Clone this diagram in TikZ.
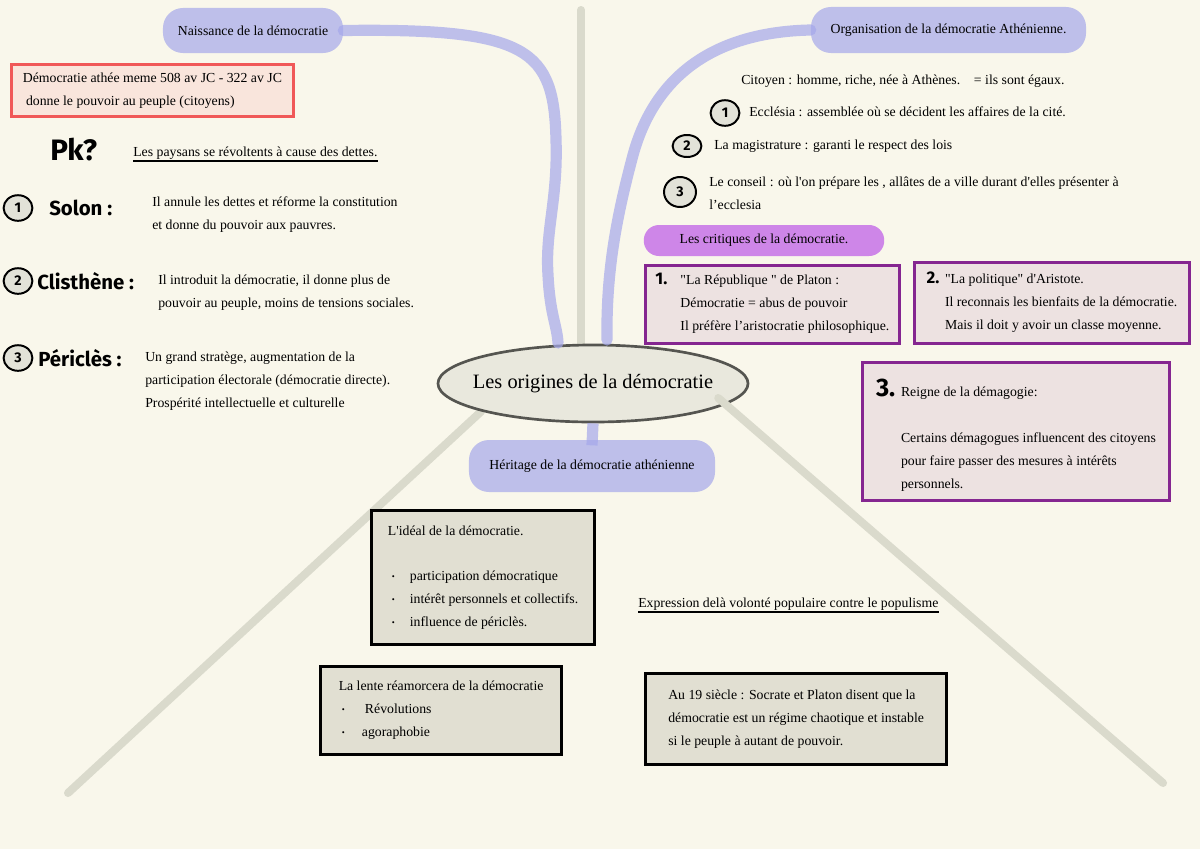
\documentclass[tikz,border=0pt]{standalone}
\usepackage{fontspec}
\setmainfont{Liberation Serif}[Ligatures=TeXOff]
\newfontfamily\handfont{Fira Sans}
\usetikzlibrary{shapes.geometric,backgrounds}

\definecolor{paper}{RGB}{249,247,235}
\definecolor{trunkgrey}{RGB}{218,218,204}
\definecolor{lavender}{RGB}{165,168,234}
\definecolor{critpurple}{RGB}{206,134,232}
\definecolor{boxpurple}{RGB}{133,38,144}
\definecolor{boxpink}{RGB}{237,226,225}
\definecolor{boxred}{RGB}{240,88,88}
\definecolor{redfill}{RGB}{249,229,220}
\definecolor{boxgrey}{RGB}{225,223,210}
\definecolor{ellfill}{RGB}{233,232,221}
\definecolor{ellline}{RGB}{85,85,80}
\definecolor{numfill}{RGB}{226,226,216}

\newcommand{\txtsize}{\fontsize{9.8}{16.3}\selectfont}
\newcommand{\bul}{\raisebox{1.2pt}{\fontsize{6}{6}\selectfont\textbullet}}

\begin{document}
\begin{tikzpicture}[x=0.025cm,y=-0.025cm,
  txt/.style={inner sep=0pt,font=\txtsize,text height=0.7em,text depth=0.25em},
  mtxt/.style={inner sep=0pt,font=\txtsize,align=left,anchor=north west},
  hand/.style={inner sep=0pt,font=\handfont\bfseries\fontsize{14.5}{14.5}\selectfont},
  numc/.style={ellipse,draw,line width=1.4pt,fill=numfill,inner sep=0pt,
    minimum width=0.72cm,minimum height=0.64cm,
    font=\handfont\bfseries\fontsize{10}{10}\selectfont},
  bubble/.style={fill=lavender,fill opacity=0.7,text opacity=1,
    rounded corners=0.5cm,font=\txtsize},
  limb/.style={draw=lavender,draw opacity=0.7,line width=0.28cm,line cap=round},
  trunk/.style={draw=trunkgrey,line width=0.2cm,line cap=round},
  rbox/.style={draw=boxred,fill=redfill,line width=1.9pt,align=left,
    font=\txtsize,inner sep=0pt,anchor=north west},
  pbox/.style={draw=boxpurple,fill=boxpink,line width=2pt,align=left,
    font=\txtsize,inner sep=0pt,anchor=north west},
  gbox/.style={draw=black,fill=boxgrey,line width=2.2pt,align=left,
    font=\txtsize,inner sep=0pt,anchor=north west}]

\begin{scope}[on background layer]
  \path[use as bounding box,fill=paper] (0,0) rectangle (1200,849);
\end{scope}

% centre
\node[ellipse,draw=ellline,fill=ellfill,line width=1.9pt,inner sep=0pt,
  minimum width=7.75cm,minimum height=1.925cm,
  font=\fontsize{14.5}{17}\selectfont] (origin) at (593,383.5)
  {\makebox[0pt]{Les origines de la démocratie}};

% branches
\node[bubble,minimum width=4.5cm,minimum height=1.125cm] (naiss) at (253,30.5)
  {Naissance de la démocratie};
\node[bubble,minimum width=6.875cm,minimum height=1.15cm] (orga) at (948.5,30)
  {Organisation de la démocratie Athénienne.};
\node[bubble,minimum width=6.15cm,minimum height=1.3cm] (herit) at (592,466)
  {Héritage de la démocratie athénienne};
\node[bubble,fill=critpurple,fill opacity=1,minimum width=6.01cm,
  minimum height=0.775cm,rounded corners=0.38cm] (crit) at (764,240.5)
  {Les critiques de la démocratie.};

\coordinate (nb) at (558,343);
\coordinate (ob) at (607,340);
\draw[limb] (naiss.east) .. controls (530,28) and (554,50) .. (556,140)
  .. controls (558,200) and (545,230) .. (548,275)
  .. controls (550,315) and (557,325) .. (nb);
\draw[limb] (orga.west) .. controls (715,32) and (655,75) .. (633,155)
  .. controls (617,215) and (606,270) .. (ob);
\draw[limb,line cap=butt] (origin.south) -- ([yshift=-4pt]herit.north);

\begin{scope}[on background layer]
  \coordinate (vtop) at (581,10);
  \coordinate (lbot) at (68,793);
  \draw[trunk] (vtop) -- (vtop |- origin.north);
  \draw[trunk] (lbot) -- (origin.-166);
\end{scope}
\coordinate (rbot) at (1163,783);
\draw[trunk,shorten >=-0.25cm] (rbot) -- (origin.-9);

% naissance
\node[rbox,minimum width=7.05cm,minimum height=1.3cm] (dates) at (10,63)
  {Démocratie athée meme 508 av JC - 322 av JC\\
   \hspace*{0.08cm}donne le pouvoir au peuple (citoyens)};
\node[hand,anchor=west,font=\handfont\bfseries\fontsize{21}{21}\selectfont]
  (pk) at (50,150) {Pk?};
\node[txt,anchor=west] (paysans) at (133,153)
  {Les paysans se révoltents à cause des dettes.};
\draw[line width=1.5pt] ([yshift=-1pt]paysans.south west) -- ([yshift=-1pt]paysans.south east);

\foreach \k/\yy/\who/\xx in {1/208/Solon :/49,2/281/Clisthène :/37,3/358/Périclès :/38}{
  \node[numc] (lnum\k) at (18,\yy) {\k};
  \node[hand,anchor=west] (who\k) at (\xx,\yy) {\who};
}
\node[mtxt] (solontxt) at (152,196.5)
  {Il annule les dettes et réforme la constitution\\
   et donne du pouvoir aux pauvres.};
\node[mtxt] (clistxt) at (158,274.5)
  {Il introduit la démocratie, il donne plus de\\
   pouvoir au peuple, moins de tensions sociales.};
\node[mtxt] (pertxt) at (145,351.5)
  {Un grand stratège, augmentation de la\\
   participation électorale (démocratie directe).\\
   Prospérité intellectuelle et culturelle};

% organisation
\node[txt,anchor=west] (citoyen) at (741,81)
  {Citoyen : homme, riche, née à Athènes.\quad = ils sont égaux.};
\node[numc] (rnum1) at (725,113) {1};
\node[txt,anchor=west] (eccl) at (749,113)
  {Ecclésia : assemblée où se décident les affaires de la cité.};
\node[numc,minimum height=0.55cm] (rnum2) at (687,146) {2};
\node[txt,anchor=west] (magis) at (714,146)
  {La magistrature : garanti le respect des lois};
\node[numc,minimum width=0.8cm,minimum height=0.75cm] (rnum3) at (680,192) {3};
\node[mtxt] (conseil) at (709,176.5)
  {Le conseil : où l'on prépare les , allâtes de a ville durant d'elles présenter à\\
   l’ecclesia};

% critiques
\node[pbox,minimum width=6.35cm,minimum height=1.95cm] (plato) at (644,264)
  {\makebox[0.625cm][l]{\smash{\handfont\bfseries\fontsize{12}{12}\selectfont 1.}}"La République " de Platon :\\
   \hspace*{0.625cm}Démocratie = abus de pouvoir\\
   \hspace*{0.625cm}Il préfère l’aristocratie philosophique.};
\node[pbox,minimum width=6.875cm,minimum height=2.025cm] (aristo) at (913,261)
  {\makebox[0.46cm][l]{\smash{\handfont\bfseries\fontsize{12}{12}\selectfont 2.}}"La politique" d'Aristote.\\
   \hspace*{0.46cm}Il reconnais les bienfaits de la démocratie.\\
   \hspace*{0.46cm}Mais il doit y avoir un classe moyenne.};
\node[pbox,minimum width=7.675cm,minimum height=3.45cm] (demago) at (861,361)
  {\rule{0pt}{17.4pt}\makebox[0.625cm][l]{\smash{\handfont\bfseries\fontsize{18}{18}\selectfont 3.}}Reigne de la démagogie:\\[16.3pt]
   \hspace*{0.625cm}Certains démagogues influencent des citoyens\\
   \hspace*{0.625cm}pour faire passer des mesures à intérêts\\
   \hspace*{0.625cm}personnels.};

% heritage
\node[gbox,minimum width=5.575cm,minimum height=3.35cm] (ideal) at (370,509)
  {L'idéal de la démocratie.\\[16.3pt]
   \hspace*{0.1cm}\makebox[0.45cm][l]{\bul}participation démocratique\\
   \hspace*{0.1cm}\makebox[0.45cm][l]{\bul}intérêt personnels et collectifs.\\
   \hspace*{0.1cm}\makebox[0.45cm][l]{\bul}influence de périclès.};
\node[txt,anchor=west] (expr) at (638,604)
  {Expression delà volonté populaire contre le populisme};
\draw[line width=1.5pt] ([yshift=-1pt]expr.south west) -- ([yshift=-1pt]expr.south east);
\node[gbox,minimum width=6.025cm,minimum height=2.2cm] (lente) at (319,665)
  {La lente réamorcera de la démocratie\\
   \hspace*{0.08cm}\makebox[0.575cm][l]{\bul}Révolutions\\
   \hspace*{0.08cm}\makebox[0.5cm][l]{\bul}agoraphobie};
\node[gbox,minimum width=7.525cm,minimum height=2.275cm] (siecle) at (644,672)
  {Au 19 siècle : Socrate et Platon disent que la\\
   démocratie est un régime chaotique et instable\\
   si le peuple à autant de pouvoir.};
\end{tikzpicture}
\end{document}
